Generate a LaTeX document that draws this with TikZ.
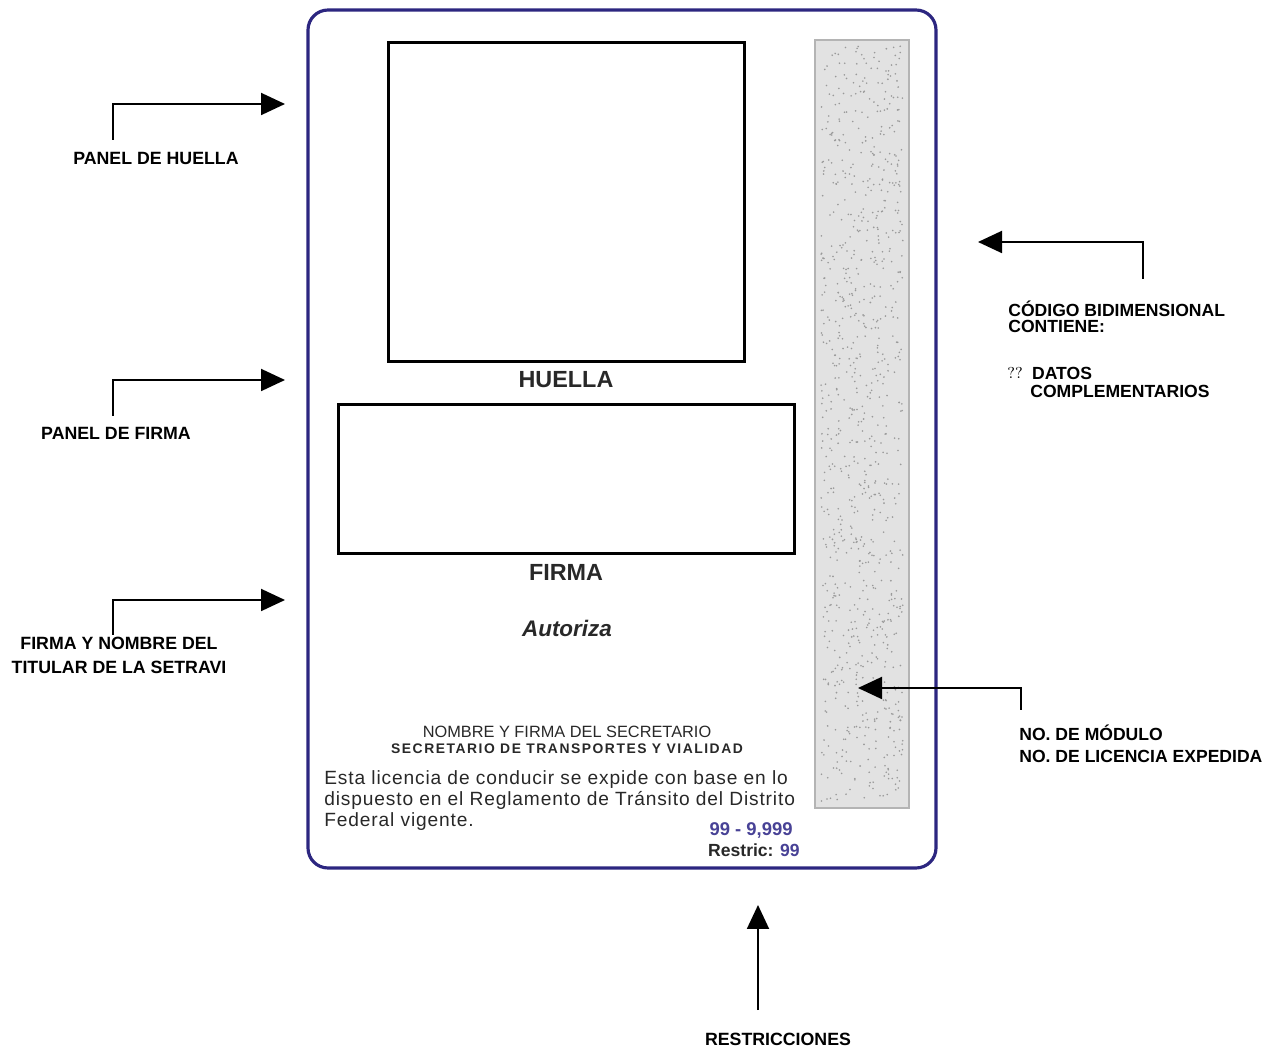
\documentclass[tikz,border=0pt]{standalone}
\usepackage{fontspec}
\newfontfamily\arialfont{Liberation Sans}
\newfontfamily\arialwide[LetterSpace=4.5]{Liberation Sans}
\newfontfamily\arialspaced[LetterSpace=11]{Liberation Sans}
\usetikzlibrary{arrows.meta}
\definecolor{cardblue}{RGB}{44,38,128}
\definecolor{numblue}{RGB}{72,66,150}
\definecolor{inkgray}{RGB}{40,40,40}
\definecolor{stripfill}{RGB}{226,226,226}
\definecolor{stripedge}{RGB}{180,180,180}

\begin{document}
\begin{tikzpicture}[x=0.02cm,y=-0.02cm]
\tikzset{callout/.style = {font=\arialfont\bfseries\fontsize{10.1}{11}\selectfont, inner sep=0pt}}
\tikzset{pointer/.style = {-{Triangle[length=0.48cm,width=0.44cm]}, line width=1.1pt}}
\tikzset{panel/.style = {draw, line width=1.7pt, inner sep=0pt}}
\tikzset{cardtext/.style = {font=\arialfont, text=inkgray, inner sep=0pt}}
\useasboundingbox (0,0) rectangle (1279,1050);

% card
\draw[cardblue, line width=1.8pt, rounded corners=0.4cm] (308,10) rectangle (936,868);
\node[panel, minimum width=7.14cm, minimum height=6.4cm] (huella) at (566.5,202) {};
\node[panel, minimum width=9.14cm, minimum height=3cm] (firma) at (566.5,479) {};
\node[cardtext, font=\arialfont\bfseries\fontsize{13.3}{15}\selectfont] (huellaT) at (566,380) {HUELLA};
\node[cardtext, font=\arialfont\bfseries\fontsize{13.3}{15}\selectfont] (firmaT) at (566,572) {FIRMA};
\node[cardtext, font=\arialfont\bfseries\itshape\fontsize{12.8}{15}\selectfont] (autoriza) at (567,628) {Autoriza};
\node[cardtext, font=\arialfont\fontsize{9.3}{11}\selectfont] (nombre) at (567,732) {NOMBRE Y FIRMA DEL SECRETARIO};
\node[cardtext, font=\arialspaced\bfseries\fontsize{7.9}{9}\selectfont] (secre) at (567,749) {SECRETARIO DE TRANSPORTES Y VIALIDAD};
\node[cardtext, anchor=north west, align=left, font=\arialwide\fontsize{10.9}{11.9}\selectfont] (leyenda) at (324,770)
  {Esta licencia de conducir se expide con base en lo\\dispuesto en el Reglamento de Tr\'ansito del Distrito\\Federal vigente.};
\node[cardtext, anchor=east, font=\arialfont\bfseries\fontsize{10.5}{12}\selectfont, text=numblue] (numero) at (793,830) {99 - 9,999};
\node[cardtext, anchor=east, font=\arialfont\bfseries\fontsize{10}{12}\selectfont] (restric) at (800,850) {Restric: \textcolor{numblue}{99}};

% code strip
\draw[stripedge, fill=stripfill, line width=1.6pt] (815,40) rectangle (909,808);
\pgfmathsetseed{4}
\foreach \k in {1,...,900}
  \fill[gray!80] (821+rnd*82, 46+rnd*756) circle (0.9);

% callouts
\node[callout] (lblHuella) at (156,158) {PANEL DE HUELLA};
\node[callout] (lblFirma) at (116,433) {PANEL DE FIRMA};
\node[callout, align=center, font=\arialfont\bfseries\fontsize{10.1}{13.6}\selectfont] (lblTitular) at (119,655) {FIRMA Y NOMBRE DEL\\TITULAR DE LA SETRAVI};
\node[callout, anchor=west, align=left, font=\arialfont\bfseries\fontsize{10}{9}\selectfont] (lblCodigo) at (1008,317) {C\'ODIGO BIDIMENSIONAL\\CONTIENE:};
\node[inner sep=0pt, font=\fontsize{9}{10}\selectfont] (qq) at (1015,373) {??};
\node[callout, anchor=north west, align=left, font=\arialfont\bfseries\fontsize{10}{10.2}\selectfont] (lblDatos) at (1030,367) {\hspace{1pt}DATOS\\COMPLEMENTARIOS};
\node[callout, anchor=west, align=left, font=\arialfont\bfseries\fontsize{10}{12.5}\selectfont] (lblModulo) at (1019,744) {NO. DE M\'ODULO\\NO. DE LICENCIA EXPEDIDA};
\node[callout] (lblRestric) at (778,1039) {RESTRICCIONES};

\coordinate (hA) at (113,140); \coordinate (hB) at (285,104);
\coordinate (fA) at (113,416); \coordinate (fB) at (285,380);
\coordinate (tA) at (113,635); \coordinate (tB) at (285,600);
\coordinate (cA) at (1143,279); \coordinate (cB) at (978,242);
\coordinate (mA) at (1021,710); \coordinate (mB) at (858,688);
\coordinate (rA) at (758,1010); \coordinate (rB) at (758,905);
\draw[pointer] (hA) |- (hB);
\draw[pointer] (fA) |- (fB);
\draw[pointer] (tA) |- (tB);
\draw[pointer] (cA) |- (cB);
\draw[pointer] (mA) |- (mB);
\draw[pointer] (rA) -- (rB);
\end{tikzpicture}
\end{document}
